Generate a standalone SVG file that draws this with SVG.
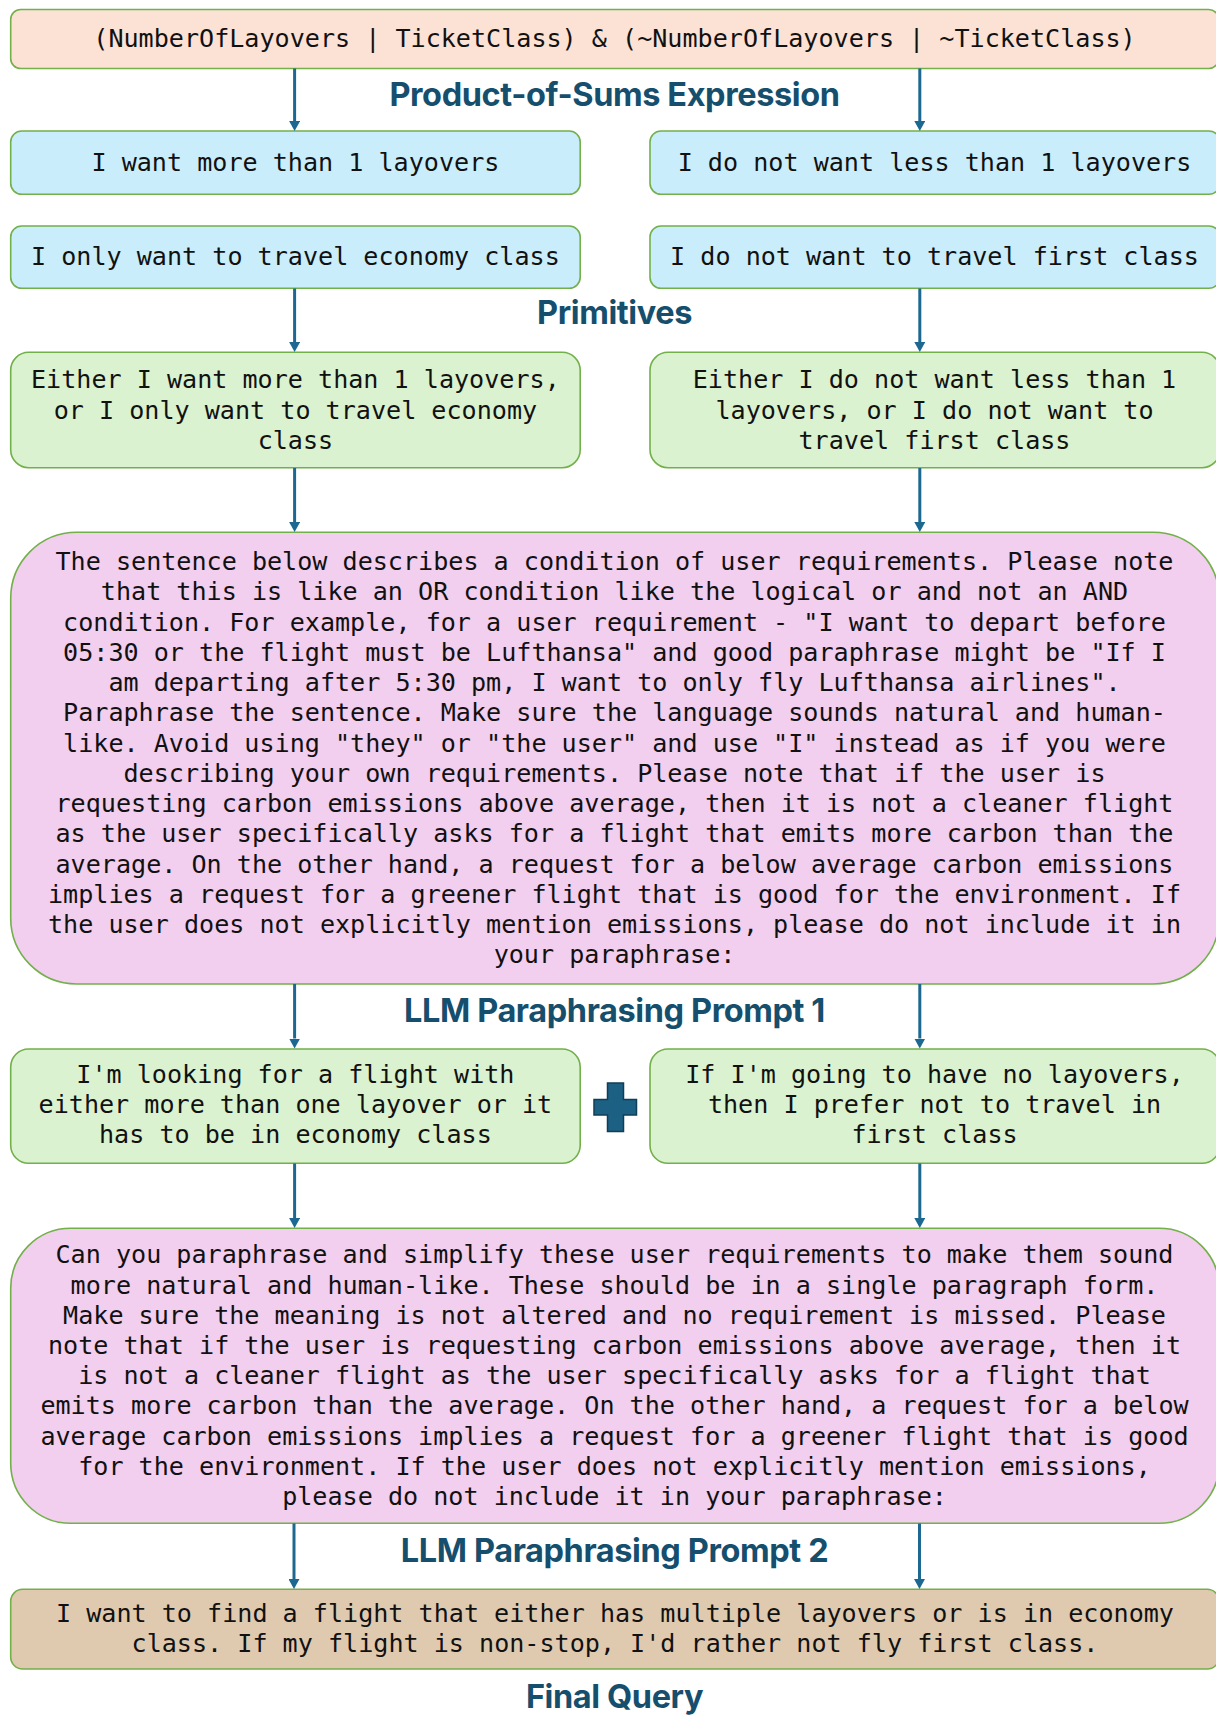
<svg xmlns="http://www.w3.org/2000/svg" width="1216" height="1715" viewBox="0 0 1216 1715">
<style>
.box{stroke:#72b04a;stroke-width:1.6}
.peach{fill:#fbe2d5}
.blue{fill:#caedfb}
.green{fill:#daf2d0}
.pink{fill:#f2ceef}
.tan{fill:#dfcab0}
.t{font-family:"DejaVu Sans Mono","Liberation Mono",monospace;font-size:25.1px;fill:#111;text-anchor:middle}
.title{font-family:Inter,Roboto,sans-serif;font-weight:bold;font-size:32.5px;fill:#154f6d;text-anchor:middle;letter-spacing:-0.4px}
.conn line{stroke:#1c6891;stroke-width:3;marker-end:url(#ah)}
</style>
<defs>
<marker id="ah" markerUnits="userSpaceOnUse" viewBox="0 0 10 11" markerWidth="10" markerHeight="11" refX="0" refY="5.5" orient="auto">
<path d="M0,0 L10,5.5 L0,11 z" fill="#1c6891"/>
</marker>
</defs>
<rect width="1216" height="1715" fill="#ffffff"/>

<g id="expr">
<rect class="box peach" x="10.7" y="9.5" width="1208" height="59" rx="10"/>
<text class="t" x="614.5" y="46.7">(NumberOfLayovers | TicketClass) &amp; (~NumberOfLayovers | ~TicketClass)</text>
</g>
<g id="title-pos"><text class="title" x="614.5" y="106">Product-of-Sums Expression</text></g>

<g id="prim-l1">
<rect class="box blue" x="10.7" y="131" width="569.5" height="63.3" rx="11"/>
<text class="t" x="295.4" y="170.7">I want more than 1 layovers</text>
</g>
<g id="prim-r1">
<rect class="box blue" x="650" y="131" width="570" height="63.3" rx="11"/>
<text class="t" x="934.5" y="170.7">I do not want less than 1 layovers</text>
</g>
<g id="prim-l2">
<rect class="box blue" x="10.7" y="226" width="569.5" height="62.3" rx="11"/>
<text class="t" x="295.4" y="265">I only want to travel economy class</text>
</g>
<g id="prim-r2">
<rect class="box blue" x="650" y="226" width="570" height="62.3" rx="11"/>
<text class="t" x="934.5" y="265">I do not want to travel first class</text>
</g>
<g id="title-prim"><text class="title" x="614.5" y="324">Primitives</text></g>

<g id="or-l">
<rect class="box green" x="10.7" y="352.3" width="569.5" height="115.4" rx="18"/>
<text class="t" x="295.4" y="388.3">Either I want more than 1 layovers,</text>
<text class="t" x="295.4" y="418.5">or I only want to travel economy</text>
<text class="t" x="295.4" y="448.7">class</text>
</g>
<g id="or-r">
<rect class="box green" x="650" y="352.3" width="570" height="115.4" rx="18"/>
<text class="t" x="934.5" y="388.3">Either I do not want less than 1</text>
<text class="t" x="934.5" y="418.5">layovers, or I do not want to</text>
<text class="t" x="934.5" y="448.7">travel first class</text>
</g>

<g id="prompt1">
<rect class="box pink" x="10.7" y="532.3" width="1208.5" height="451.7" rx="66"/>
<text class="t" x="614.5" y="570">The sentence below describes a condition of user requirements. Please note</text>
<text class="t" x="614.5" y="600.25">that this is like an OR condition like the logical or and not an AND</text>
<text class="t" x="614.5" y="630.5">condition. For example, for a user requirement - "I want to depart before</text>
<text class="t" x="614.5" y="660.75">05:30 or the flight must be Lufthansa" and good paraphrase might be "If I</text>
<text class="t" x="614.5" y="691">am departing after 5:30 pm, I want to only fly Lufthansa airlines".</text>
<text class="t" x="614.5" y="721.25">Paraphrase the sentence. Make sure the language sounds natural and human-</text>
<text class="t" x="614.5" y="751.5">like. Avoid using "they" or "the user" and use "I" instead as if you were</text>
<text class="t" x="614.5" y="781.75">describing your own requirements. Please note that if the user is</text>
<text class="t" x="614.5" y="812">requesting carbon emissions above average, then it is not a cleaner flight</text>
<text class="t" x="614.5" y="842.25">as the user specifically asks for a flight that emits more carbon than the</text>
<text class="t" x="614.5" y="872.5">average. On the other hand, a request for a below average carbon emissions</text>
<text class="t" x="614.5" y="902.75">implies a request for a greener flight that is good for the environment. If</text>
<text class="t" x="614.5" y="933">the user does not explicitly mention emissions, please do not include it in</text>
<text class="t" x="614.5" y="963.25">your paraphrase:</text>
</g>
<g id="title-p1"><text class="title" x="614.5" y="1021.5">LLM Paraphrasing Prompt 1</text></g>

<g id="para-l">
<rect class="box green" x="10.7" y="1049" width="569.5" height="114.3" rx="18"/>
<text class="t" x="295.4" y="1082.7">I'm looking for a flight with</text>
<text class="t" x="295.4" y="1112.9">either more than one layover or it</text>
<text class="t" x="295.4" y="1143.1">has to be in economy class</text>
</g>
<g id="plus">
<path d="M607.5,1083 H623.5 V1099.5 H636.5 V1115 H623.5 V1131.5 H607.5 V1115 H594 V1099.5 H607.5 Z" fill="#1c6184" stroke="#0f3e56" stroke-width="1.5"/>
</g>
<g id="para-r">
<rect class="box green" x="650" y="1049" width="570" height="114.3" rx="18"/>
<text class="t" x="934.5" y="1082.7">If I'm going to have no layovers,</text>
<text class="t" x="934.5" y="1112.9">then I prefer not to travel in</text>
<text class="t" x="934.5" y="1143.1">first class</text>
</g>

<g id="prompt2">
<rect class="box pink" x="10.7" y="1228.3" width="1208.5" height="295" rx="60"/>
<text class="t" x="614.5" y="1263.3">Can you paraphrase and simplify these user requirements to make them sound</text>
<text class="t" x="614.5" y="1293.5">more natural and human-like. These should be in a single paragraph form.</text>
<text class="t" x="614.5" y="1323.7">Make sure the meaning is not altered and no requirement is missed. Please</text>
<text class="t" x="614.5" y="1353.9">note that if the user is requesting carbon emissions above average, then it</text>
<text class="t" x="614.5" y="1384.1">is not a cleaner flight as the user specifically asks for a flight that</text>
<text class="t" x="614.5" y="1414.3">emits more carbon than the average. On the other hand, a request for a below</text>
<text class="t" x="614.5" y="1444.5">average carbon emissions implies a request for a greener flight that is good</text>
<text class="t" x="614.5" y="1474.7">for the environment. If the user does not explicitly mention emissions,</text>
<text class="t" x="614.5" y="1504.9">please do not include it in your paraphrase:</text>
</g>
<g id="title-p2"><text class="title" x="614.5" y="1562">LLM Paraphrasing Prompt 2</text></g>

<g id="final">
<rect class="box tan" x="10.7" y="1589.3" width="1208.5" height="79.7" rx="12"/>
<text class="t" x="615" y="1621.7">I want to find a flight that either has multiple layovers or is in economy</text>
<text class="t" x="615" y="1651.7">class. If my flight is non-stop, I'd rather not fly first class.</text>
</g>
<g id="title-final"><text class="title" x="614.5" y="1708">Final Query</text></g>

<g id="connectors" class="conn">
<line x1="294.6" y1="68.5" x2="294.6" y2="121"/>
<line x1="919.8" y1="68.5" x2="919.8" y2="121"/>
<line x1="294.6" y1="288.5" x2="294.6" y2="342"/>
<line x1="919.8" y1="288.5" x2="919.8" y2="342"/>
<line x1="294.6" y1="468" x2="294.6" y2="522"/>
<line x1="919.8" y1="468" x2="919.8" y2="522"/>
<line x1="294.6" y1="984" x2="294.6" y2="1038.5"/>
<line x1="919.8" y1="984" x2="919.8" y2="1038.5"/>
<line x1="294.6" y1="1163.5" x2="294.6" y2="1218"/>
<line x1="919.8" y1="1163.5" x2="919.8" y2="1218"/>
<line x1="294" y1="1523.5" x2="294" y2="1579"/>
<line x1="919.5" y1="1523.5" x2="919.5" y2="1579"/>
</g>
</svg>
